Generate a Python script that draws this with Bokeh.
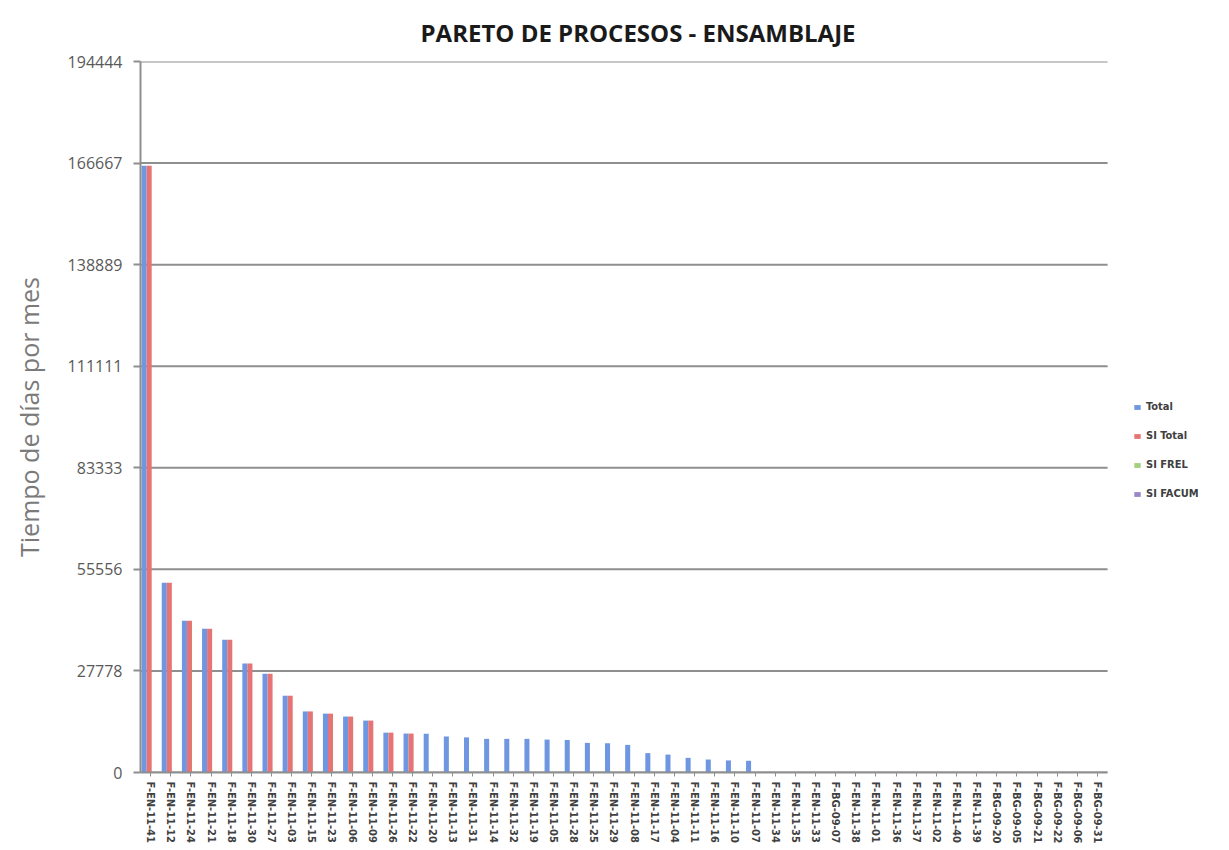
from bokeh.plotting import figure
from bokeh.models import FixedTicker, Legend, LegendItem, Range1d, ColumnDataSource, NumeralTickFormatter
from bokeh.transform import dodge
from bokeh.embed import file_html
from bokeh.resources import INLINE

categories = [
    "F-EN-11-41", "F-EN-11-12", "F-EN-11-24", "F-EN-11-21", "F-EN-11-18", "F-EN-11-30",
    "F-EN-11-27", "F-EN-11-03", "F-EN-11-15", "F-EN-11-23", "F-EN-11-06", "F-EN-11-09",
    "F-EN-11-26", "F-EN-11-22", "F-EN-11-20", "F-EN-11-13", "F-EN-11-31", "F-EN-11-14",
    "F-EN-11-32", "F-EN-11-19", "F-EN-11-05", "F-EN-11-28", "F-EN-11-25", "F-EN-11-29",
    "F-EN-11-08", "F-EN-11-17", "F-EN-11-04", "F-EN-11-11", "F-EN-11-16", "F-EN-11-10",
    "F-EN-11-07", "F-EN-11-34", "F-EN-11-35", "F-EN-11-33", "F-BG-09-07", "F-EN-11-38",
    "F-EN-11-01", "F-EN-11-36", "F-EN-11-37", "F-EN-11-02", "F-EN-11-40", "F-EN-11-39",
    "F-BG-09-20", "F-BG-09-05", "F-BG-09-21", "F-BG-09-22", "F-BG-09-06", "F-BG-09-31",
]

total = [
    165900, 51900, 41500, 39300, 36300, 29800, 27000, 21000, 16700, 16100, 15300, 14200,
    10900, 10650, 10600, 9850, 9600, 9200, 9200, 9200, 9000, 8900, 8100, 8000,
    7550, 5300, 4900, 4000, 3550, 3300, 3200, 200, 150, 0, 0, 0,
    0, 0, 0, 0, 0, 0, 0, 0, 0, 0, 0, 0,
]

si_total = [
    165900, 51900, 41500, 39300, 36300, 29800, 27000, 21000, 16700, 16100, 15300, 14200,
    10900, 10650, 0, 0, 0, 0, 0, 0, 0, 0, 0, 0,
    0, 0, 0, 0, 0, 0, 0, 0, 0, 0, 0, 0,
    0, 0, 0, 0, 0, 0, 0, 0, 0, 0, 0, 0,
]

si_frel = [0] * len(categories)
si_facum = [0] * len(categories)

y_ticks = [0, 27778, 55556, 83333, 111111, 138889, 166667, 194444]

n = len(categories)
idx = list(range(n))
src = ColumnDataSource(dict(idx=idx, cat=categories, total=total, si_total=si_total,
                            si_frel=si_frel, si_facum=si_facum))

# extra room to the right of the last category holds the legend
x_end = n - 0.5 + 6.05
p = figure(x_range=Range1d(-0.5, x_end), y_range=Range1d(0, y_ticks[-1]),
           frame_width=1089, frame_height=711,
           output_backend="svg", toolbar_location=None,
           min_border_left=140, min_border_right=0, min_border_top=61, min_border_bottom=78)

p.title.text = "PARETO DE PROCESOS - ENSAMBLAJE"
p.title.align = "left"
p.title.text_font = "Open Sans"
p.title.text_font_style = "bold"
p.title.text_font_size = "24px"
p.title.text_color = "#1a1a1a"
p.title.offset = 280
p.title.standoff = 26

# horizontal grid lines limited to the category area
p.segment(x0=[-0.5] * len(y_ticks), x1=[n - 0.5] * len(y_ticks), y0=y_ticks, y1=y_ticks,
          line_color="#8f8f8f", line_width=2)

W = 0.25
r1 = p.vbar(x=dodge("idx", -0.32), top="total", width=W, source=src,
            fill_color="#6f96e0", line_color=None)
r2 = p.vbar(x=dodge("idx", -0.07), top="si_total", width=W, source=src,
            fill_color="#e67474", line_color=None)
r3 = p.vbar(x=dodge("idx", 0.18), top="si_frel", width=W, source=src,
            fill_color="#a3d07a", line_color=None)
r4 = p.vbar(x=dodge("idx", 0.43), top="si_facum", width=W, source=src,
            fill_color="#9a86c8", line_color=None)

legend = Legend(items=[
    LegendItem(label="Total", renderers=[r1]),
    LegendItem(label="SI Total", renderers=[r2]),
    LegendItem(label="SI FREL", renderers=[r3]),
    LegendItem(label="SI FACUM", renderers=[r4]),
], location=(993, 272))
legend.background_fill_alpha = 0
legend.border_line_color = None
legend.label_text_font = "DejaVu Sans Condensed"
legend.label_text_font_style = "bold"
legend.label_text_font_size = "11px"
legend.label_text_color = "#404040"
legend.glyph_width = 8
legend.glyph_height = 6
legend.label_height = 10
legend.label_standoff = 5
legend.spacing = 16
legend.padding = 0
legend.margin = 0
p.add_layout(legend, "center")

p.xgrid.grid_line_color = None
p.ygrid.grid_line_color = None
p.yaxis.ticker = FixedTicker(ticks=y_ticks)
p.yaxis.formatter = NumeralTickFormatter(format="0")
p.yaxis.minor_tick_line_color = None
p.yaxis.major_tick_out = 7
p.yaxis.major_tick_in = 0
p.yaxis.major_tick_line_color = "#8f8f8f"
p.yaxis.major_tick_line_width = 2
p.yaxis.axis_line_color = "#8f8f8f"
p.yaxis.axis_line_width = 2
p.yaxis.major_label_text_font = "Open Sans"
p.yaxis.major_label_text_font_size = "16px"
p.yaxis.major_label_text_color = "#595959"
p.yaxis.major_label_standoff = 11
p.yaxis.axis_label = "Tiempo de días por mes"
p.yaxis.axis_label_text_font = "Open Sans"
p.yaxis.axis_label_text_font_style = "normal"
p.yaxis.axis_label_text_font_size = "25px"
p.yaxis.axis_label_text_color = "#7a7a7a"
p.yaxis.axis_label_standoff = 19

p.xaxis.ticker = FixedTicker(ticks=idx)
p.xaxis.major_label_overrides = {i: c for i, c in zip(idx, categories)}
p.xaxis.bounds = (-0.5, n - 0.5)
p.xaxis.minor_tick_line_color = None
p.xaxis.axis_line_color = "#8f8f8f"
p.xaxis.axis_line_width = 2
p.xaxis.major_tick_line_color = "#8f8f8f"
p.xaxis.major_tick_out = 4
p.xaxis.major_tick_in = 0
p.xaxis.major_label_orientation = "vertical"
p.xaxis.major_label_text_font = "DejaVu Sans Condensed"
p.xaxis.major_label_text_font_style = "bold"
p.xaxis.major_label_text_font_size = "11px"
p.xaxis.major_label_text_color = "#404040"
p.xaxis.major_label_standoff = 5

p.outline_line_color = None

open("out.html", "w").write(file_html(p, INLINE))
